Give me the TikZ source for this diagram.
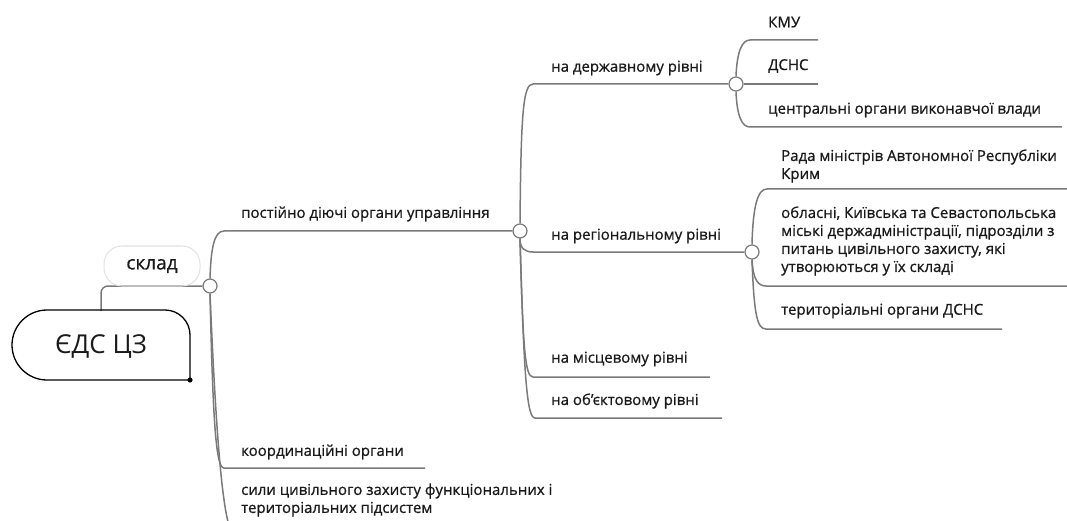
\documentclass[tikz,border=0pt]{standalone}
\usepackage{fontspec}
\setmainfont{Open Sans}
\newfontfamily\lblff{Open Sans}[FakeBold=0.8]
\newfontfamily\rootff{Open Sans}
\usetikzlibrary{backgrounds}
\definecolor{linegray}{HTML}{7A7A7A}
\definecolor{txt}{HTML}{1A1A1A}
\definecolor{boxgray}{HTML}{E2E2E2}
\newcommand{\lblfont}{\lblff\fontsize{15}{18}\selectfont}
\tikzset{
  conn/.style={draw=linegray, line width=1.5pt},
  hub/.style={circle, draw=linegray, line width=1.2pt, fill=white, minimum size=14pt, inner sep=0pt},
  lbl/.style={anchor=west, inner sep=0pt, font=\lblfont, text=txt, align=left},
}
\begin{document}
\begin{tikzpicture}[x=1pt, y=-1pt]
\useasboundingbox (0,0) rectangle (1067,521);
\clip (0,0) rectangle (1067,521);

% root
\node[minimum width=178pt, minimum height=70pt, inner sep=0pt, font=\rootff\fontsize{26}{30}\selectfont, text=txt] (root) at (101,346) {ЄДС ЦЗ};
\draw[black, line width=1.3pt] (190,380) -- (190,335) .. controls (190,321.2) and (178.8,310) .. (165,310) -- (47,310)
   .. controls (27.7,310) and (12,325.7) .. (12,345) .. controls (12,364.3) and (27.7,380) .. (47,380) -- cycle;
\fill[black] (190,380) circle[radius=2.6pt];

% склад
\node[draw=boxgray, line width=1pt, rounded corners=18pt, minimum width=96pt, minimum height=40pt, font=\lblff\fontsize{19}{22}\selectfont, text=txt] (sklad) at (152,266) {склад};

% hubs
\node[hub] (c1) at (210,286) {};
\node[hub] (c2) at (520,231) {};
\node[hub] (c3) at (736,84) {};
\node[hub] (c4) at (752,252) {};

% labels
\node[lbl] (postiino) at (241,214) {постійно діючі органи управління};
\node[lbl] (koord) at (241,452) {координаційні органи};
\node[lbl] (syly) at (241,500) {сили цивільного захисту функціональних і\\територіальних підсистем};
\node[lbl] (derzh) at (551,68) {на державному рівні};
\node[lbl] (region) at (551,236) {на регіональному рівні};
\node[lbl] (mists) at (551,359) {на місцевому рівні};
\node[lbl] (obiekt) at (551,401) {на об’єктовому рівні};
\node[lbl] (kmu) at (768,22) {КМУ};
\node[lbl] (dsns) at (768,66) {ДСНС};
\node[lbl] (tsentr) at (768,110) {центральні органи виконавчої влади};
\node[lbl] (rada) at (781,166) {Рада міністрів Автономної Республіки\\Крим};
\node[lbl] (oblasni) at (781,241) {обласні, Київська та Севастопольська\\міські держадміністрації, підрозділи з\\питань цивільного захисту, які\\утворюються у їх складі};
\node[lbl] (terr) at (781,311) {територіальні органи ДСНС};

% junctions (where a branch turns horizontal)
\coordinate (j-post) at (224,231);
\coordinate (j-koord) at (224,468);
\coordinate (j-syly) at (236,536);
\coordinate (j-derzh) at (533,84);
\coordinate (j-region) at (533,252);
\coordinate (j-mists) at (533,377);
\coordinate (j-obiekt) at (535,418);
\coordinate (j-kmu) at (750,40);
\coordinate (j-tsentr) at (750,127);
\coordinate (j-rada) at (767,189);
\coordinate (j-oblasni) at (766,286);
\coordinate (j-terr) at (766,329);

% underline ends
\coordinate (e-koord) at (425,468);
\coordinate (e-syly) at (600,536);
\coordinate (e-mists) at (710,377);
\coordinate (e-obiekt) at (722,418);
\coordinate (e-kmu) at (818,40);
\coordinate (e-dsns) at (818,84);
\coordinate (e-tsentr) at (1062,127);
\coordinate (e-rada) at (1070,189);
\coordinate (e-oblasni) at (1070,286);
\coordinate (e-terr) at (1002,329);

\begin{scope}[on background layer]
\draw[conn, rounded corners=7pt] (root.north) |- (c1.west);
\draw[conn] (c1.north) .. controls +(1,-30) and +(-10,0) .. (j-post) -- (c2.west);
\draw[conn] (c1.south) .. controls +(3,130) and +(-8,0) .. (j-koord) -- (e-koord);
\draw[conn] (c1.south) .. controls +(8,190) and +(-10,0) .. (j-syly) -- (e-syly);
\draw[conn] (c2.north) .. controls +(1,-110) and +(-10,0) .. (j-derzh) -- (c3.west);
\draw[conn] (c2.south) .. controls +(0,10) and +(-8,0) .. (j-region) -- (c4.west);
\draw[conn] (c2.south) .. controls +(3,110) and +(-8,0) .. (j-mists) -- (e-mists);
\draw[conn] (c2.south) .. controls +(4,140) and +(-8,0) .. (j-obiekt) -- (e-obiekt);
\draw[conn] (c3.north) .. controls +(1,-25) and +(-8,0) .. (j-kmu) -- (e-kmu);
\draw[conn] (c3.east) -- (e-dsns);
\draw[conn] (c3.south) .. controls +(1,25) and +(-8,0) .. (j-tsentr) -- (e-tsentr);
\draw[conn] (c4.north) .. controls +(1,-40) and +(-9,0) .. (j-rada) -- (e-rada);
\draw[conn] (c4.south) .. controls +(1,20) and +(-8,0) .. (j-oblasni) -- (e-oblasni);
\draw[conn] (c4.south) .. controls +(2,55) and +(-9,0) .. (j-terr) -- (e-terr);
\end{scope}
\end{tikzpicture}
\end{document}
